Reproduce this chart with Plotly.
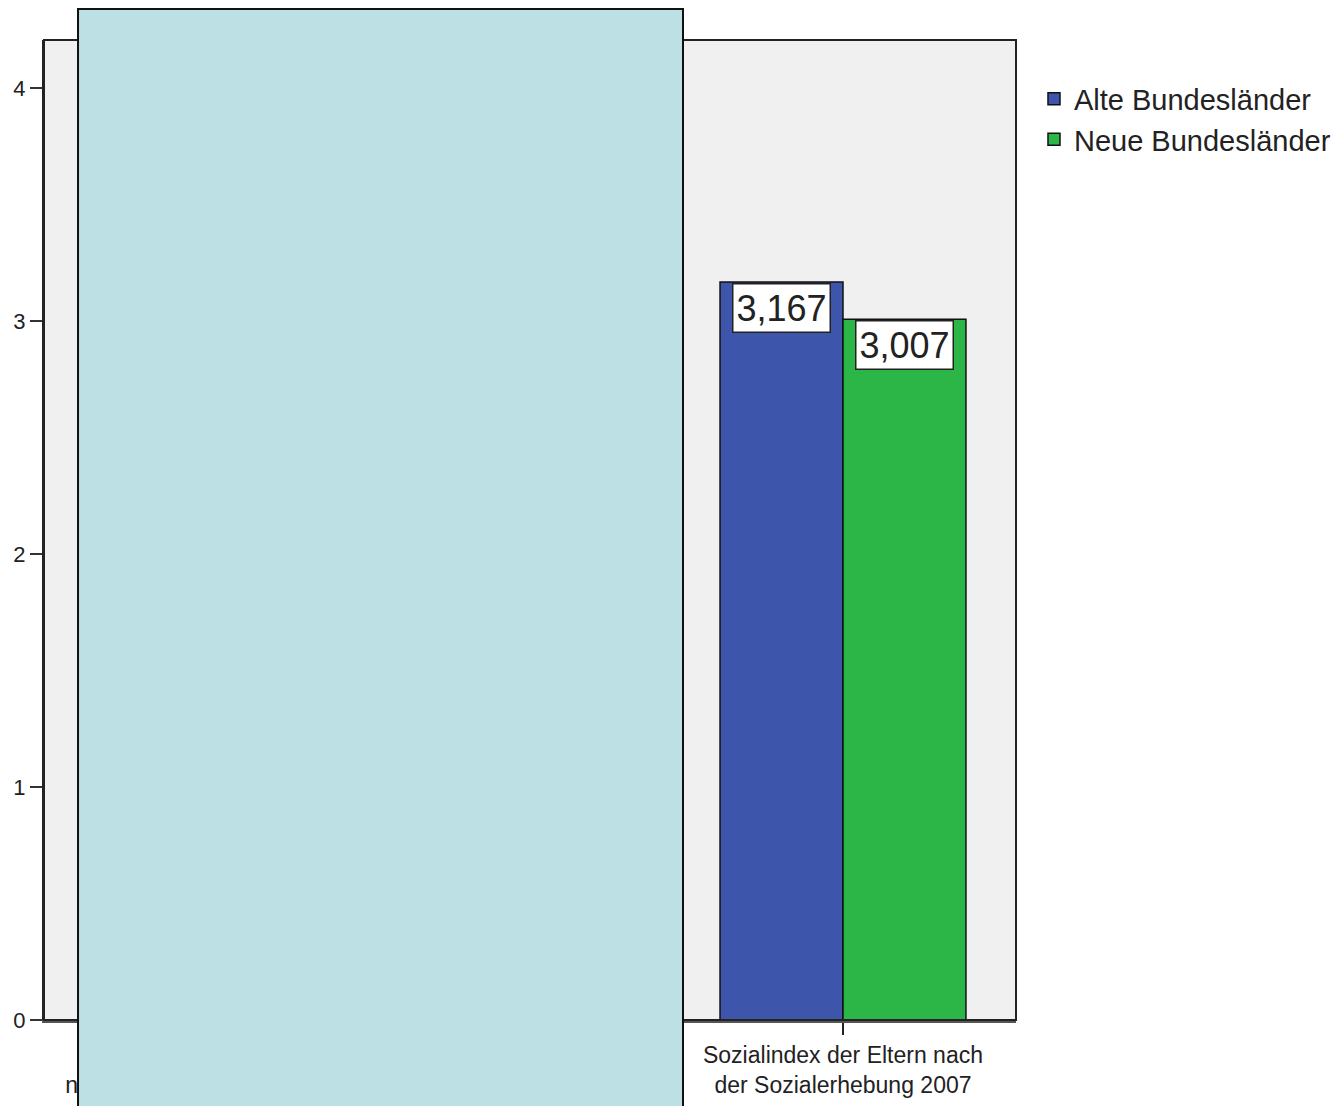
import plotly.graph_objects as go

# ---- data ----
categories = ["Sozialindex der Schule<br>nach der Sozialerhebung 2007",
              "Sozialindex der Eltern nach<br>der Sozialerhebung 2007"]
series_names = ["Alte Bundesländer", "Neue Bundesländer"]
alte_values = [None, 3.167]
neue_values = [None, 3.007]
y_ticks = [0, 1, 2, 3, 4]

colors = ["#3D56AB", "#2DB648"]
BARGAP = 0.604
FONT = "Liberation Sans, Arial, sans-serif"

x_idx = list(range(len(categories)))
fig = go.Figure()
for name, vals, col in zip(series_names, [alte_values, neue_values], colors):
    fig.add_trace(go.Bar(
        x=x_idx, y=vals, name=name,
        marker=dict(color=col, line=dict(color="#111111", width=1.5)),
    ))

# value label boxes
w = (1 - BARGAP) / 2
annotations = []
for s, vals in enumerate([alte_values, neue_values]):
    for i, v in enumerate(vals):
        if v is None:
            continue
        xc = i - w / 2 + s * w
        annotations.append(dict(
            x=xc, y=v, xref="x", yref="y", text=f"{v:.3f}".replace(".", ","),
            showarrow=False, yanchor="top", xanchor="center", yshift=-1,
            font=dict(family=FONT, size=36, color="#222222"),
            bgcolor="white", bordercolor="#222222", borderwidth=1.5, borderpad=3,
        ))

# figure is placed at (8, 8) in the page by the default body margin
fig.update_layout(
    width=1334, height=1098,
    margin=dict(l=36, r=326, t=32, b=86, autoexpand=False),
    paper_bgcolor="white", plot_bgcolor="#F0F0F0",
    barmode="group", bargap=BARGAP, bargroupgap=0,
    font=dict(family=FONT, color="#222222"),
    showlegend=True,
    legend=dict(x=1.0185, y=0.966, xanchor="left", yanchor="top",
                font=dict(family=FONT, size=29, color="#222222"),
                bgcolor="rgba(0,0,0,0)", tracegroupgap=0),
    annotations=annotations,
    xaxis=dict(
        range=[-0.2866, 1.2786], tickmode="array", tickvals=x_idx, ticktext=categories,
        showgrid=False, zeroline=False, showline=True, linecolor="#555555", linewidth=3,
        mirror=False, ticks="outside", ticklen=12, tickwidth=2, tickcolor="#222222",
        tickfont=dict(family=FONT, size=23, color="#222222"), tickangle=0,
    ),
    yaxis=dict(
        range=[0, 4.206], tickmode="array", tickvals=y_ticks,
        ticktext=[str(t) for t in y_ticks],
        showgrid=False, zeroline=False, showline=True, linecolor="#222222", linewidth=2,
        mirror=False, ticks="outside", ticklen=12, tickwidth=2, tickcolor="#333333",
        tickfont=dict(family=FONT, size=22, color="#222222"),
    ),
    shapes=[
        # plot frame (top and right)
        dict(type="rect", xref="paper", yref="paper", x0=0, x1=1, y0=0, y1=1,
             line=dict(color="#222222", width=2), fillcolor="rgba(0,0,0,0)", layer="above"),
        # occluding overlay panel
        dict(type="rect", xref="paper", yref="paper", x0=0.035, x1=0.6574,
             y0=-0.1, y1=1.0316, fillcolor="#BCE0E3",
             line=dict(color="#111111", width=2), layer="above"),
    ],
)

fig.write_html("out.html")
